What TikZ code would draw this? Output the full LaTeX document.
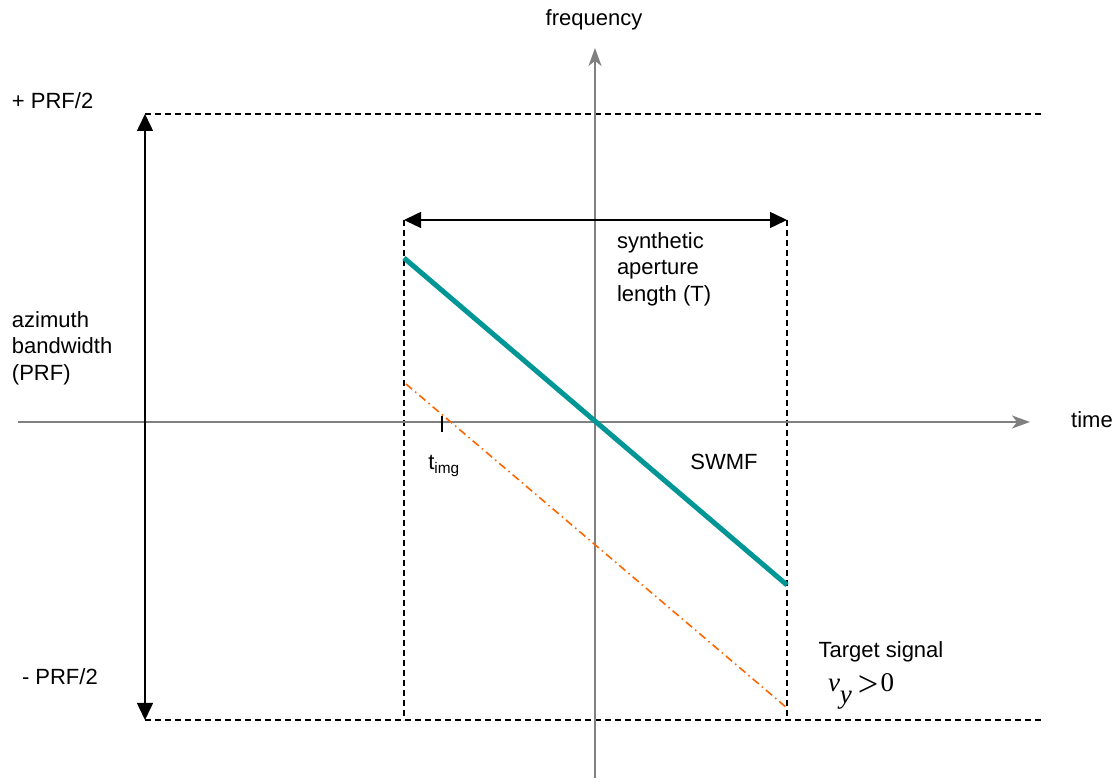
\documentclass[tikz,border=0pt]{standalone}
\usepackage{fontspec}
\setmainfont{Liberation Sans}
\newfontfamily\serifmath{Liberation Serif}
\usetikzlibrary{arrows.meta, positioning}
\definecolor{swmfteal}{RGB}{0,150,150}
\definecolor{targetorange}{RGB}{255,102,0}
\definecolor{axisgray}{RGB}{128,128,128}
\tikzstyle{axis}      = [axisgray, line width=1.5pt, -{Stealth[length=18pt,width=13pt,inset=5pt]}]
\tikzstyle{guide}     = [black, line width=1.2pt, dash pattern=on 6pt off 4pt]
\tikzstyle{span}      = [black, line width=1.5pt, {Triangle[length=17pt,width=16pt]}-{Triangle[length=17pt,width=16pt]}]
\tikzstyle{plaintext} = [inner sep=0pt, outer sep=0pt, align=left, font=\fontsize{22}{26.5}\selectfont]
\tikzstyle{swmf}      = [swmfteal, line width=5pt]
\tikzstyle{target}    = [targetorange, line width=1.6pt, dash pattern=on 8pt off 4pt on 1.5pt off 4pt]

\begin{document}
\begin{tikzpicture}[x=1pt, y=1pt]
        \useasboundingbox (0,0) rectangle (1120,782);

        % Achsen
        \coordinate (tstart) at (18,360);
        \coordinate (tend)   at (1030,360);
        \coordinate (fstart) at (595,4);
        \coordinate (fend)   at (595,734);

        \node[plaintext] (freq) at (594,762) {frequency};
        \node[plaintext] (time) at (1092,362) {time};

        % Grenzen der Bandbreite
        \coordinate (prftop)    at (145,668);
        \coordinate (prfbottom) at (145,62);
        \coordinate (topright)  at (1043,668);
        \coordinate (botright)  at (1043,62);

        % Apertur
        \coordinate (apleft)   at (404,562);
        \coordinate (apright)  at (787,562);
        \coordinate (apleftb)  at (404,62);
        \coordinate (aprightb) at (787,62);

        % Signale
        \coordinate (swmfstart)   at (404,524);
        \coordinate (swmfend)     at (787,197);
        \coordinate (targetstart) at (406,398);
        \coordinate (targetend)   at (787,74);
        \coordinate (ticktop)     at (442,366);
        \coordinate (tickbottom)  at (442,350);

        % Gestrichelte Linien
        \draw[guide] (prftop) -- (topright);
        \draw[guide] (prfbottom) -- (botright);
        \draw[guide] (apleft) -- (apleftb);
        \draw[guide] (apright) -- (aprightb);

        \draw[axis] (tstart) -- (tend);
        \draw[axis] (fstart) -- (fend);

        % Doppelpfeile
        \draw[span] (prftop) -- (prfbottom);
        \draw[span] (apleft) -- (apright);

        % Linien
        \draw[target] (targetstart) -- (targetend);
        \draw[swmf] (swmfstart) -- (swmfend);
        \draw[black, line width=1.5pt] (ticktop) -- (tickbottom);

        % Beschriftungen
        \node[plaintext, anchor=west] (plus)  at (12,681) {+ PRF/2};
        \node[plaintext, anchor=west] (minus) at (22,105) {- PRF/2};
        \node[plaintext, anchor=west] (azbw)  at (12,434)
            {azimuth\\bandwidth\\(PRF)};
        \node[plaintext, anchor=west] (aplen) at (617,513)
            {synthetic\\aperture\\length (T)};
        \node[plaintext] (swmflabel) at (724,320) {SWMF};
        \node[plaintext] (timg) at (444,316) {t\textsubscript{img}};
        \node[plaintext] (tsig) at (881,130) {Target signal};
        \node[plaintext, anchor=base west] (vy) at (828,90)
            {\serifmath\fontsize{27}{30}\selectfont\itshape v\raisebox{-12pt}{y}\hspace{6pt}\upshape\raisebox{-5pt}{\scalebox{1.35}{>}}\hspace{2pt}0};

\end{tikzpicture}
\end{document}
